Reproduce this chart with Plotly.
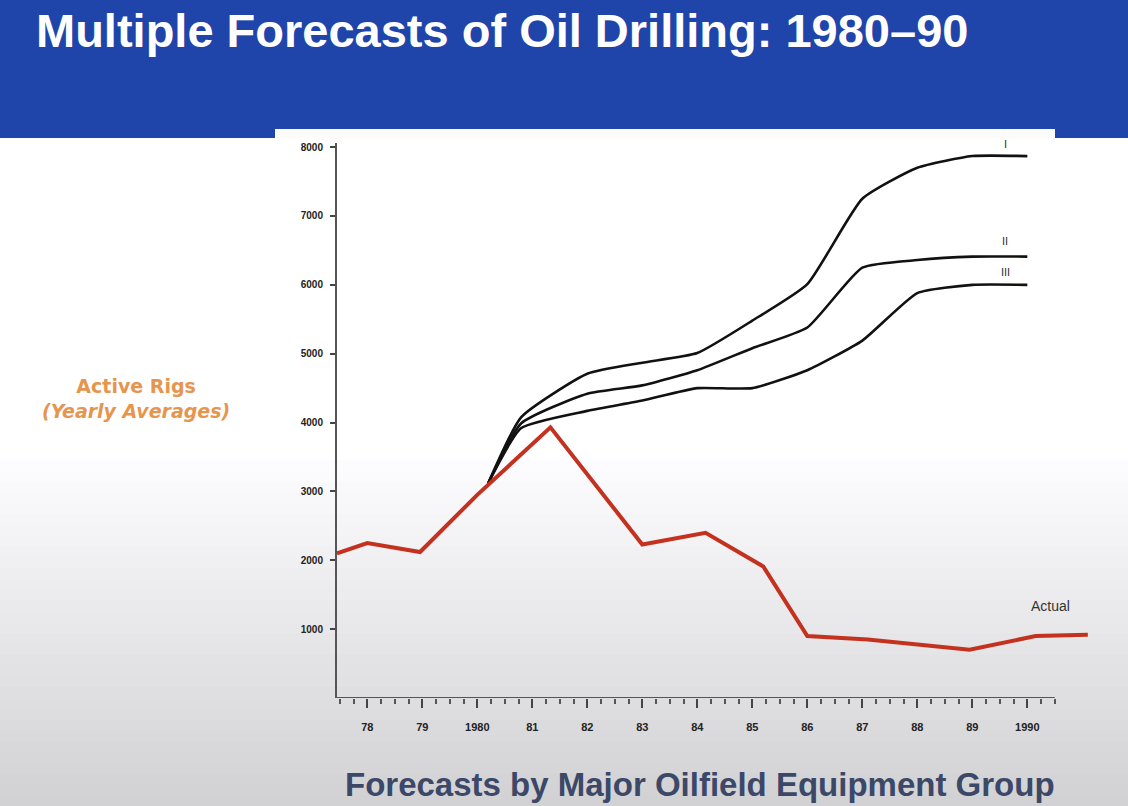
import plotly.graph_objects as go

# years (label "78" = 1978.0, 55 px per year)
actual_years = [1977.45, 1978.0, 1978.96, 1980.0, 1981.33, 1983.0, 1984.15,
                1985.2, 1986.0, 1987.1, 1988.95, 1990.15, 1991.1]
actual_rigs = [2100, 2250, 2120, 2950, 3930, 2230, 2400,
               1910, 900, 850, 700, 900, 920]

fc_years = [1980.2, 1980.8, 1982, 1983, 1984, 1985, 1986, 1987, 1988, 1989, 1990]
fc_1 = [3120, 4080, 4710, 4870, 5010, 5480, 6010, 7250, 7700, 7870, 7870]
fc_2 = [3120, 3990, 4420, 4540, 4760, 5080, 5380, 6250, 6360, 6410, 6410]
fc_3 = [3120, 3920, 4170, 4320, 4500, 4500, 4760, 5190, 5880, 6000, 6000]

tick_years = list(range(1978, 1991))
tick_text = ["78", "79", "1980", "81", "82", "83", "84", "85", "86", "87", "88", "89", "1990"]
y_ticks = [1000, 2000, 3000, 4000, 5000, 6000, 7000, 8000]

W, H = 1128, 806
FONT = "Liberation Sans, Arial"


def py(px):
    return 1 - px / H


fig = go.Figure()

for vals in (fc_1, fc_2, fc_3):
    fig.add_trace(go.Scatter(x=fc_years, y=vals, mode="lines",
                             line=dict(color="#111111", width=2.6, shape="spline", smoothing=0.5),
                             hoverinfo="skip"))

fig.add_trace(go.Scatter(x=actual_years, y=actual_rigs, mode="lines",
                         line=dict(color="#c4321f", width=4), hoverinfo="skip"))

shapes = []
# soft gray fade towards the bottom of the slide
n = 32
for i in range(n):
    top = 460 + i * (H - 460) / n
    bot = 460 + (i + 1) * (H - 460) / n + 1
    g = int(254 - (i + 1) * (254 - 210) / n)
    shapes.append(dict(type="rect", xref="paper", yref="paper", x0=0, x1=1,
                       y0=py(bot), y1=py(top), fillcolor=f"rgb({g},{g},{g + 2})",
                       line_width=0, layer="below"))
# header band
shapes.append(dict(type="rect", xref="paper", yref="paper", x0=0, x1=1, y0=py(138), y1=1,
                   fillcolor="#1f45aa", line_width=0, layer="below"))
shapes.append(dict(type="rect", xref="paper", yref="paper", x0=275 / W, x1=1055 / W,
                   y0=py(138), y1=py(129), fillcolor="#fbfbfa", line_width=0, layer="below"))
# x axis line (stops short of the last actual point)
shapes.append(dict(type="line", xref="x", yref="y", x0=1977.45, x1=1990.5, y0=0, y1=0,
                   line=dict(color="#555555", width=2)))

annotations = [
    dict(text="<b>Multiple Forecasts of Oil Drilling: 1980–90</b>", xref="paper", yref="paper",
         x=34 / W, y=py(31), xanchor="left", yanchor="middle", showarrow=False,
         font=dict(family=FONT, size=47, color="white")),
    dict(text="<b>Forecasts by Major Oilfield Equipment Group</b>", xref="paper", yref="paper",
         x=700 / W, y=py(784), xanchor="center", yanchor="middle", showarrow=False,
         font=dict(family=FONT, size=33, color="#3b4868")),
    dict(text="<b>Active Rigs</b><br><b><i>(Yearly Averages)</i></b>", xref="paper", yref="paper",
         x=136 / W, y=py(399), xanchor="center", yanchor="middle", showarrow=False,
         font=dict(family="DejaVu Sans", size=19, color="#e6954f")),
]
for label, xx, yy, sz in [("I", 1989.6, 8040, 11), ("II", 1989.6, 6640, 11),
                          ("III", 1989.6, 6180, 11), ("Actual", 1990.42, 1330, 14)]:
    annotations.append(dict(text=label, x=xx, y=yy, xref="x", yref="y", showarrow=False,
                            xanchor="center", yanchor="middle",
                            font=dict(family=FONT, size=sz, color="#333333")))

fig.update_layout(
    width=W, height=H,
    margin=dict(l=0, r=0, t=0, b=0),
    paper_bgcolor="white", plot_bgcolor="rgba(0,0,0,0)",
    showlegend=False,
    shapes=shapes,
    annotations=annotations,
    xaxis=dict(domain=[337 / W, 1095 / W], range=[1977.45, 1991.23],
               tickmode="array", tickvals=tick_years, ticktext=tick_text,
               ticks="outside", ticklen=9, tickwidth=1.5, tickcolor="#444444",
               ticklabelstandoff=10,
               minor=dict(tickmode="array",
                          tickvals=[y + q for y in range(1977, 1991) for q in (0.25, 0.5, 0.75)
                                    if 1977.45 <= y + q <= 1990.5],
                          ticks="outside", ticklen=5, tickwidth=1.5, tickcolor="#555555"),
               showgrid=False, zeroline=False, showline=False,
               tickfont=dict(family=FONT, size=11, color="#222222", weight="bold")),
    yaxis=dict(domain=[py(698), py(143)], range=[0, 8060],
               tickmode="array", tickvals=y_ticks,
               ticks="outside", ticklen=5, tickwidth=1.5, tickcolor="#444444",
               ticklabelstandoff=5,
               showline=True, linecolor="#555555", linewidth=2,
               showgrid=False, zeroline=False,
               tickfont=dict(family=FONT, size=10, color="#222222", weight="bold")),
)

fig.write_html("out.html", config={"displayModeBar": False},
               post_script="document.body.style.margin='0';document.body.style.overflow='hidden';")
